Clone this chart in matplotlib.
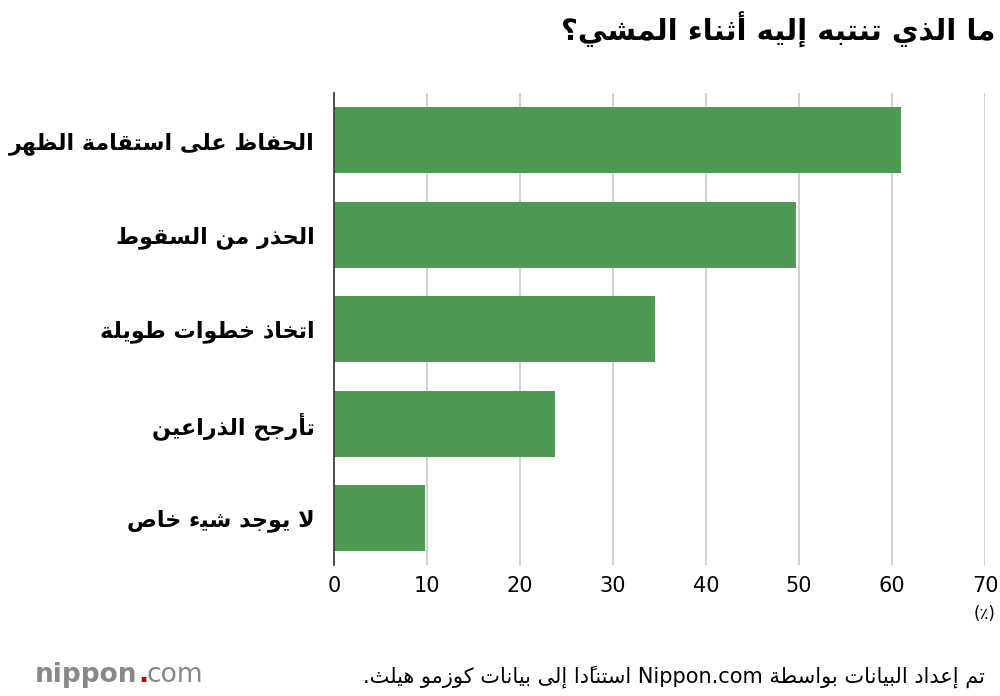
import matplotlib
matplotlib.use("Agg")
import matplotlib.pyplot as plt
import re

title = "ما الذي تنتبه إليه أثناء المشي؟"
categories = ["الحفاظ على استقامة الظهر", "الحذر من السقوط", "اتخاذ خطوات طويلة",
              "تأرجح الذراعين", "لا يوجد شيء خاص"]
values = [61.0, 49.7, 34.5, 23.8, 9.8]
xticks = [0, 10, 20, 30, 40, 50, 60, 70]
unit = "(٪)"
footer = "تم إعداد البيانات بواسطة Nippon.com استنادًا إلى بيانات كوزمو هيلث."

# --- minimal Arabic shaping (presentation forms) ---
F = {}
def add(ch, base, n):
    F[ch] = [chr(base + i) for i in range(n)]
for ch, b, n in [('ء',0xFE80,1),('آ',0xFE81,2),('أ',0xFE83,2),('ؤ',0xFE85,2),('إ',0xFE87,2),
                 ('ئ',0xFE89,4),('ا',0xFE8D,2),('ب',0xFE8F,4),('ة',0xFE93,2),('ت',0xFE95,4),
                 ('ث',0xFE99,4),('ج',0xFE9D,4),('ح',0xFEA1,4),('خ',0xFEA5,4),('د',0xFEA9,2),
                 ('ذ',0xFEAB,2),('ر',0xFEAD,2),('ز',0xFEAF,2),('س',0xFEB1,4),('ش',0xFEB5,4),
                 ('ص',0xFEB9,4),('ض',0xFEBD,4),('ط',0xFEC1,4),('ظ',0xFEC5,4),('ع',0xFEC9,4),
                 ('غ',0xFECD,4),('ف',0xFED1,4),('ق',0xFED5,4),('ك',0xFED9,4),('ل',0xFEDD,4),
                 ('م',0xFEE1,4),('ن',0xFEE5,4),('ه',0xFEE9,4),('و',0xFEED,2),('ى',0xFEEF,2),
                 ('ي',0xFEF1,4)]:
    add(ch, b, n)
LAM_ALEF = {'ا':(0xFEFB,0xFEFC),'أ':(0xFEF7,0xFEF8),'إ':(0xFEF9,0xFEFA),'آ':(0xFEF5,0xFEF6)}
MARKS = set('\u064B\u064C\u064D\u064E\u064F\u0650\u0651\u0652')

def shape(s):
    units = []
    i = 0
    while i < len(s):
        c = s[i]
        if c == 'ل' and i + 1 < len(s) and s[i+1] in LAM_ALEF:
            units.append(('LA', s[i+1])); i += 2
        else:
            units.append(('C', c)); i += 1
    def joins_next(u):
        t, c = u
        if t == 'LA': return False
        return c in F and len(F[c]) == 4
    def joinable(u):
        t, c = u
        return t == 'LA' or c in F
    out = []
    for k, u in enumerate(units):
        t, c = u
        if t == 'C' and c in MARKS:
            out.append(c); continue
        p = k - 1
        while p >= 0 and units[p][0] == 'C' and units[p][1] in MARKS: p -= 1
        n = k + 1
        while n < len(units) and units[n][0] == 'C' and units[n][1] in MARKS: n += 1
        prev_j = p >= 0 and joins_next(units[p])
        next_j = n < len(units) and joinable(units[n]) and joins_next(u)
        if t == 'LA':
            a, b = LAM_ALEF[c]
            out.append(chr(b if prev_j else a)); continue
        if c not in F:
            out.append(c); continue
        forms = F[c]
        if len(forms) == 1:
            out.append(forms[0])
        elif len(forms) == 2:
            out.append(forms[1] if prev_j else forms[0])
        else:
            if prev_j and next_j: out.append(forms[3])
            elif prev_j: out.append(forms[1])
            elif next_j: out.append(forms[2])
            else: out.append(forms[0])
    return ''.join(out)

def ar(s):
    sh = shape(s)
    clusters = []
    for c in sh:
        if c in MARKS and clusters:
            clusters[-1] += c
        else:
            clusters.append(c)
    rev = ''.join(clusters[::-1])
    return re.sub(r'[A-Za-z0-9][A-Za-z0-9.]*[A-Za-z0-9]', lambda m: m.group(0)[::-1], rev)

plt.rcParams['font.family'] = ['DejaVu Sans']
fig = plt.figure(figsize=(10, 6.96), dpi=100)
ax = fig.add_axes([0.334, 0.188, 0.651, 0.678])
green = '#4f9a52'
ypos = list(range(len(categories)))
ax.barh(ypos, values, height=0.7, color=green, zorder=2)
ax.set_ylim(len(categories) - 0.5, -0.5)
ax.set_xlim(0, 70)
ax.set_xticks(xticks)
ax.set_xticklabels([str(t) for t in xticks], fontsize=15)
ax.grid(axis='x', color='#c8c8c8', linewidth=1.2, zorder=0)
ax.set_yticks(ypos)
ax.set_yticklabels([ar(c) for c in categories], fontsize=16, fontweight='bold')
ax.tick_params(axis='y', length=0, pad=14)
ax.tick_params(axis='x', length=0, pad=8)
for s in ['top', 'right', 'bottom']:
    ax.spines[s].set_visible(False)
ax.spines['left'].set_color('#333333')
ax.spines['left'].set_linewidth(1.2)

fig.text(0.995, 0.957, ar(title), ha='right', va='center', fontsize=21, fontweight='bold')
fig.text(0.985, 0.118, unit, ha='center', va='center', fontsize=12)
fig.text(0.985, 0.028, ar(footer), ha='right', va='center', fontsize=15)
fig.text(0.035, 0.03, "nippon", ha='left', va='center', fontsize=19, color='#888888', fontweight='bold')
fig.text(0.138, 0.03, ".", ha='left', va='center', fontsize=19, color='#cc0000', fontweight='bold')
fig.text(0.147, 0.03, "com", ha='left', va='center', fontsize=19, color='#888888')
fig.savefig('out.png', dpi=100)
